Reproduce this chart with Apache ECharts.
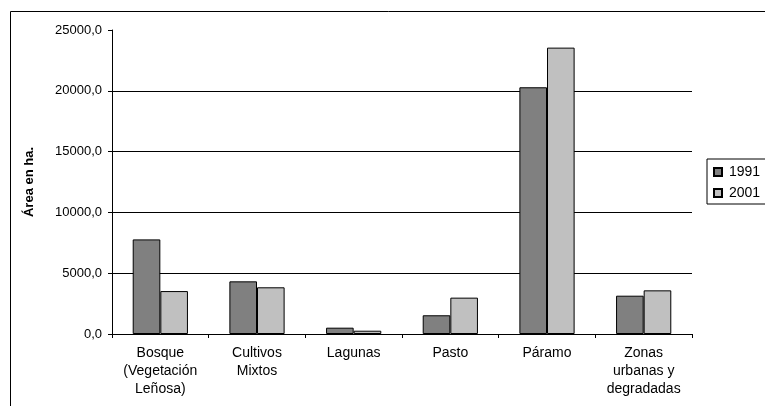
<!DOCTYPE html>
<html>
<head>
<meta charset="utf-8">
<script src="https://cdn.jsdelivr.net/npm/echarts@6/dist/echarts.min.js"></script>
<style>html,body{margin:0;padding:0;background:#fff;}#c{width:765px;height:406px;}</style>
</head>
<body>
<div id="c"></div>
<script>
const categories = ['Bosque\n(Vegetación\nLeñosa)', 'Cultivos\nMixtos', 'Lagunas', 'Pasto', 'Páramo', 'Zonas\nurbanas y\ndegradadas'];
const seriesNames = ['1991', '2001'];
const values1991 = [7780, 4330, 520, 1540, 20290, 3150];
const values2001 = [3530, 3840, 270, 2990, 23550, 3590];
const yTicks = { min: 0, max: 25000, interval: 5000 };
const yAxisTitle = 'Área en ha.';

const font = 'Liberation Sans, Arial, sans-serif';
const chart = echarts.init(document.getElementById('c'), null, { renderer: 'canvas' });
chart.setOption({
  animation: false,
  backgroundColor: '#fff',
  graphic: [{
    type: 'rect', left: 8, top: 9, shape: { width: 900, height: 600 },
    style: { fill: 'none', stroke: '#000', lineWidth: 1 }, silent: true
  }],
  grid: { left: 112, right: 73, top: 30, bottom: 72, containLabel: false },
  legend: {
    data: seriesNames,
    orient: 'vertical', left: 707, top: 159,
    itemWidth: 8, itemHeight: 8, itemGap: 7,
    padding: [6, 40, 4, 6],
    borderColor: '#000', borderWidth: 1,
    icon: 'rect',
    textStyle: { fontFamily: font, fontSize: 14, color: '#000', padding: [0, 0, 0, 2] }
  },
  xAxis: {
    type: 'category', data: categories,
    axisLine: { lineStyle: { color: '#000', width: 1 } },
    axisTick: { show: true, length: 4, alignWithLabel: false, lineStyle: { color: '#000' } },
    axisLabel: { fontFamily: font, fontSize: 14, color: '#000', lineHeight: 18, margin: 10, interval: 0, align: 'center' },
    splitLine: { show: false }
  },
  yAxis: {
    type: 'value', min: yTicks.min, max: yTicks.max, interval: yTicks.interval,
    name: yAxisTitle, nameLocation: 'middle', nameGap: 76, nameRotate: 90,
    nameTextStyle: { fontFamily: font, fontSize: 13, fontWeight: 'bold', color: '#000' },
    axisLine: { show: true, lineStyle: { color: '#000', width: 1 } },
    axisTick: { show: true, length: 4, inside: false, lineStyle: { color: '#000' } },
    axisLabel: { fontFamily: font, fontSize: 13, color: '#000', margin: 10,
      formatter: v => v.toFixed(1).replace('.', ',') },
    splitLine: { show: true, showMinLine: false, showMaxLine: false, lineStyle: { color: '#000', width: 1 } }
  },
  series: [
    { name: seriesNames[0], type: 'bar', data: values1991, barGap: '0%', barCategoryGap: '42.86%',
      itemStyle: { color: '#808080', borderColor: '#000', borderWidth: 1 } },
    { name: seriesNames[1], type: 'bar', data: values2001, barGap: '0%', barCategoryGap: '42.86%',
      itemStyle: { color: '#C0C0C0', borderColor: '#000', borderWidth: 1 } }
  ]
});
</script>
</body>
</html>
